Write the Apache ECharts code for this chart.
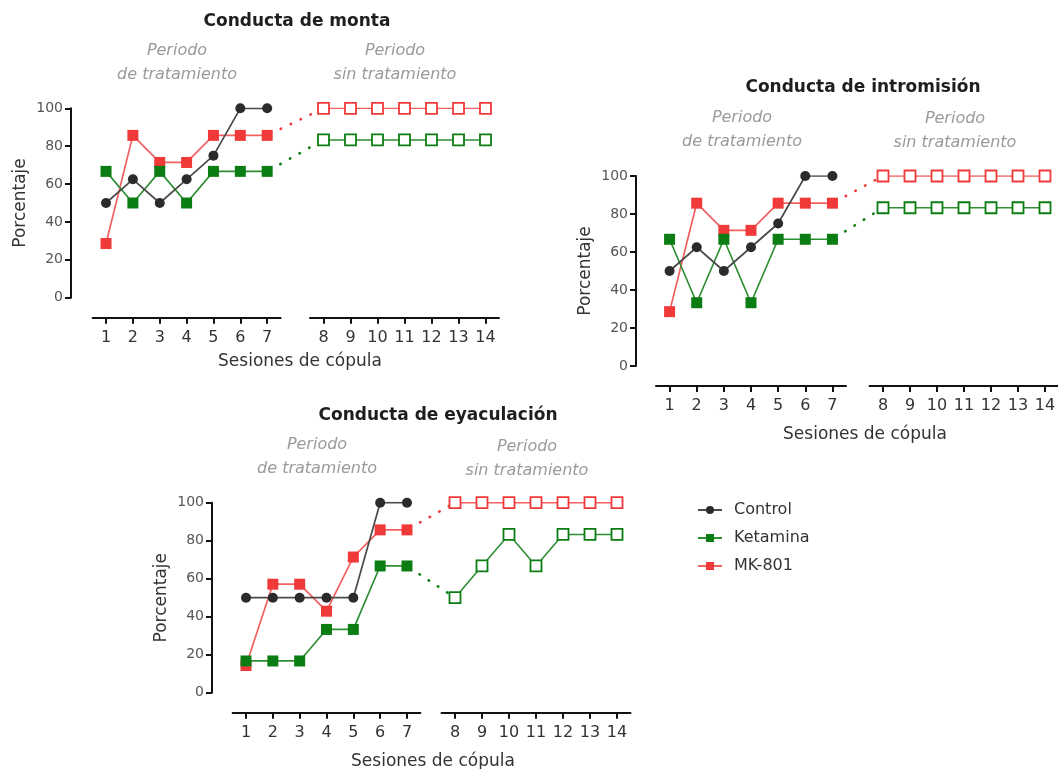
<!DOCTYPE html>
<html>
<head>
<meta charset="utf-8">
<script src="https://cdn.jsdelivr.net/npm/echarts@6.0.0/dist/echarts.min.js"></script>
<style>html,body{margin:0;padding:0;background:#fff;}#c{width:1058px;height:769px;}</style>
</head>
<body>
<div id="c"></div>
<script>
// ---- data ----
const sessionsTreat = ['1','2','3','4','5','6','7'];
const sessionsPost = ['8','9','10','11','12','13','14'];
const groupNames = ['Control','Ketamina','MK-801'];
const panelTitles = ['Conducta de monta','Conducta de intromisión','Conducta de eyaculación'];
const periodTreatLabel = 'Periodo\nde tratamiento';
const periodPostLabel = 'Periodo\nsin tratamiento';
const yAxisName = 'Porcentaje';
const xAxisName = 'Sesiones de cópula';

const montaControl = [50, 62.5, 50, 62.5, 75, 100, 100];
const montaKetamina = [66.7, 50, 66.7, 50, 66.7, 66.7, 66.7];
const montaMK801 = [28.6, 85.7, 71.4, 71.4, 85.7, 85.7, 85.7];
const montaKetaminaPost = [83.3, 83.3, 83.3, 83.3, 83.3, 83.3, 83.3];
const montaMK801Post = [100, 100, 100, 100, 100, 100, 100];

const intromisionControl = [50, 62.5, 50, 62.5, 75, 100, 100];
const intromisionKetamina = [66.7, 33.3, 66.7, 33.3, 66.7, 66.7, 66.7];
const intromisionMK801 = [28.6, 85.7, 71.4, 71.4, 85.7, 85.7, 85.7];
const intromisionKetaminaPost = [83.3, 83.3, 83.3, 83.3, 83.3, 83.3, 83.3];
const intromisionMK801Post = [100, 100, 100, 100, 100, 100, 100];

const eyaculacionControl = [50, 50, 50, 50, 50, 100, 100];
const eyaculacionKetamina = [16.7, 16.7, 16.7, 33.3, 33.3, 66.7, 66.7];
const eyaculacionMK801 = [14.3, 57.1, 57.1, 42.9, 71.4, 85.7, 85.7];
const eyaculacionKetaminaPost = [50, 66.7, 83.3, 66.7, 83.3, 83.3, 83.3];
const eyaculacionMK801Post = [100, 100, 100, 100, 100, 100, 100];

// ---- styles / layout ----
const FONT = 'DejaVu Sans';
const COLORS = {
  Control: {mark: '#2b2b2b', line: '#4a4a4a'},
  Ketamina: {mark: '#0b7d12', line: '#2f8f35'},
  'MK-801': {mark: '#f03a3a', line: '#f26060'}
};

const panelData = [
  {control: montaControl, ket: montaKetamina, mk: montaMK801, ketPost: montaKetaminaPost, mkPost: montaMK801Post},
  {control: intromisionControl, ket: intromisionKetamina, mk: intromisionMK801, ketPost: intromisionKetaminaPost, mkPost: intromisionMK801Post},
  {control: eyaculacionControl, ket: eyaculacionKetamina, mk: eyaculacionMK801, ketPost: eyaculacionKetaminaPost, mkPost: eyaculacionMK801Post}
];

const layouts = [
  {axisX: 71, top: 108.3, h: 189.4, L: [92.6, 188], R: [310, 189], titleC: [297, 22], subL: [177, 63], subR: [395, 63], nameC: [300, 362]},
  {axisX: 636, top: 176, h: 190, L: [656, 190], R: [869.5, 189], titleC: [863, 88], subL: [742, 129.5], subR: [955, 131], nameC: [865, 435]},
  {axisX: 212, top: 502.7, h: 190, L: [232.6, 187.8], R: [441.5, 189], titleC: [438, 416], subL: [317, 457], subR: [527, 459], nameC: [433, 762]}
];

const grids = [], xAxes = [], yAxes = [], series = [], graphics = [];

function axisLineStyle() { return {color: '#111', width: 2}; }

layouts.forEach((lay, p) => {
  const d = panelData[p];
  const gL = p * 3, gR = p * 3 + 1, gC = p * 3 + 2;
  const bandL = lay.L[1] / 7, bandR = lay.R[1] / 7;
  const x7 = lay.L[0] + 6.5 * bandL;
  const x8 = lay.R[0] + 0.5 * bandR;
  grids.push({left: lay.L[0], top: lay.top, width: lay.L[1], height: lay.h, outerBoundsMode: 'none', containLabel: false});
  grids.push({left: lay.R[0], top: lay.top, width: lay.R[1], height: lay.h, outerBoundsMode: 'none', containLabel: false});
  grids.push({left: x7, top: lay.top, width: x8 - x7, height: lay.h, outerBoundsMode: 'none', containLabel: false});

  const xCommon = {
    type: 'category', boundaryGap: true, offset: 20, position: 'bottom',
    axisLine: {show: true, onZero: false, lineStyle: axisLineStyle()},
    axisTick: {show: true, alignWithLabel: true, length: 6, lineStyle: {color: '#111', width: 2}},
    axisLabel: {fontFamily: FONT, fontSize: 16, color: '#333', margin: 12},
    splitLine: {show: false}
  };
  xAxes.push(Object.assign({gridIndex: gL, data: sessionsTreat}, xCommon));
  xAxes.push(Object.assign({gridIndex: gR, data: sessionsPost}, xCommon));
  xAxes.push({gridIndex: gC, type: 'category', boundaryGap: false, data: [sessionsTreat[6], sessionsPost[0]], show: false});

  yAxes.push({
    gridIndex: gL, type: 'value', min: 0, max: 100, interval: 20, position: 'left',
    offset: lay.L[0] - lay.axisX,
    axisLine: {show: true, lineStyle: axisLineStyle()},
    axisTick: {show: true, length: 6, lineStyle: {color: '#111', width: 2}},
    axisLabel: {fontFamily: FONT, fontSize: 14, color: '#555', margin: 8},
    splitLine: {show: false},
    name: yAxisName, nameLocation: 'middle', nameGap: 42,
    nameTextStyle: {fontFamily: FONT, fontSize: 17, color: '#333'}
  });
  yAxes.push({gridIndex: gR, type: 'value', min: 0, max: 100, show: false, splitLine: {show: false}});
  yAxes.push({gridIndex: gC, type: 'value', min: 0, max: 100, show: false, splitLine: {show: false}});

  // treatment period series (filled markers)
  const treat = [
    {name: 'Control', data: d.control, symbol: 'circle', size: 10},
    {name: 'Ketamina', data: d.ket, symbol: 'rect', size: 11},
    {name: 'MK-801', data: d.mk, symbol: 'rect', size: 11}
  ];
  treat.forEach((s, i) => {
    series.push({
      type: 'line', name: s.name, xAxisIndex: gL, yAxisIndex: gL, data: s.data,
      symbol: s.symbol, symbolSize: s.size, showAllSymbol: true,
      itemStyle: {color: COLORS[s.name].mark},
      lineStyle: {color: COLORS[s.name].line, width: 1.7},
      emphasis: {disabled: true}, animation: false, z: 3 + (2 - i)
    });
  });
  // post period series (open markers)
  const post = [
    {name: 'Ketamina', data: d.ketPost},
    {name: 'MK-801', data: d.mkPost}
  ];
  post.forEach((s) => {
    series.push({
      type: 'line', name: s.name + ' (sin tratamiento ' + (p + 1) + ')', xAxisIndex: gR, yAxisIndex: gR, data: s.data,
      symbol: 'rect', symbolSize: 11, showAllSymbol: true,
      itemStyle: {color: '#fff', borderColor: COLORS[s.name].mark, borderWidth: 1.8},
      lineStyle: {color: COLORS[s.name].line, width: 1.6},
      emphasis: {disabled: true}, animation: false, z: 3
    });
  });
  // dotted connectors between session 7 and 8
  const conn = [
    {name: 'Ketamina', a: d.ket, b: d.ketPost},
    {name: 'MK-801', a: d.mk, b: d.mkPost}
  ];
  conn.forEach((s) => {
    series.push({
      type: 'line', name: s.name + ' (conexión ' + (p + 1) + ')', xAxisIndex: gC, yAxisIndex: gC,
      data: [s.a[s.a.length - 1], s.b[0]], symbol: 'none',
      lineStyle: {color: COLORS[s.name].mark, width: 2.6, type: [0.5, 10.5], dashOffset: -4, cap: 'round'},
      emphasis: {disabled: true}, animation: false, z: 2
    });
  });

  // texts
  graphics.push({type: 'text', x: lay.titleC[0], y: lay.titleC[1], style: {
    text: panelTitles[p], fontFamily: FONT, fontSize: 17, fontWeight: 'bold', fill: '#1e1e1e',
    align: 'center', verticalAlign: 'middle', textAlign: 'center', textVerticalAlign: 'middle'}});
  graphics.push({type: 'text', x: lay.subL[0], y: lay.subL[1], style: {
    text: periodTreatLabel, fontFamily: FONT, fontSize: 16, fontStyle: 'italic', fill: '#9a9a9a', lineHeight: 24,
    align: 'center', verticalAlign: 'middle', textAlign: 'center', textVerticalAlign: 'middle'}});
  graphics.push({type: 'text', x: lay.subR[0], y: lay.subR[1], style: {
    text: periodPostLabel, fontFamily: FONT, fontSize: 16, fontStyle: 'italic', fill: '#9a9a9a', lineHeight: 24,
    align: 'center', verticalAlign: 'middle', textAlign: 'center', textVerticalAlign: 'middle'}});
  graphics.push({type: 'text', x: lay.nameC[0], y: lay.nameC[1], style: {
    text: xAxisName, fontFamily: FONT, fontSize: 17, fill: '#333',
    align: 'center', verticalAlign: 'middle', textAlign: 'center', textVerticalAlign: 'middle'}});
});

const chart = echarts.init(document.getElementById('c'), null, {renderer: 'canvas'});
chart.setOption({
  backgroundColor: '#fff',
  animation: false,
  grid: grids,
  xAxis: xAxes,
  yAxis: yAxes,
  series: series,
  graphic: graphics,
  legend: {
    data: groupNames, orient: 'vertical', left: 692, top: 496,
    itemWidth: 24, itemHeight: 10, itemGap: 10,
    textStyle: {fontFamily: FONT, fontSize: 16, color: '#333', lineHeight: 18, padding: [0, 0, 0, 7]},
    selectedMode: false
  }
});
</script>
</body>
</html>
